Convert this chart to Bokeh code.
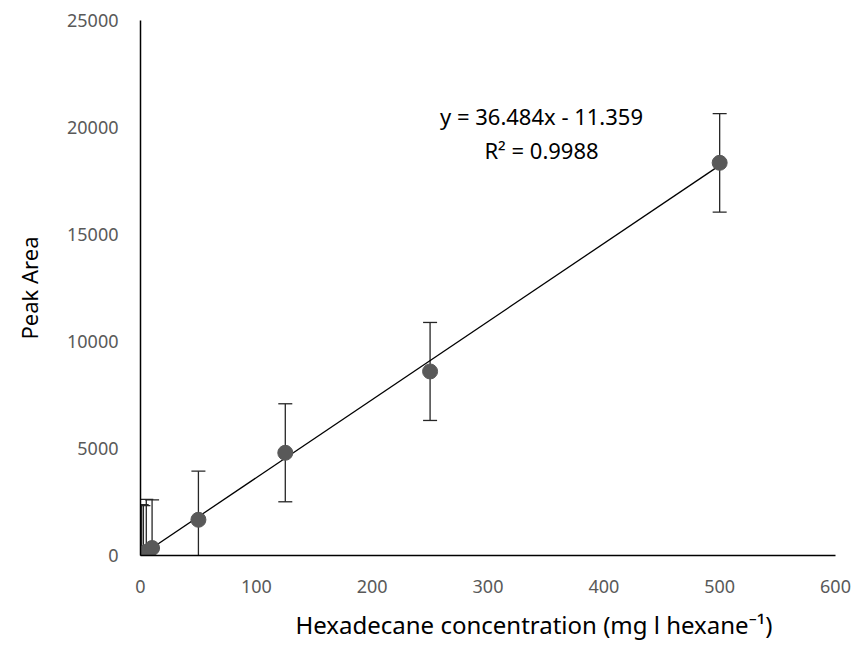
from bokeh.plotting import figure
from bokeh.models import Range1d, ColumnDataSource, Whisker, TeeHead, Label, FixedTicker, Title
from bokeh.embed import file_html
from bokeh.resources import INLINE

# Data
concentration = [1, 2.5, 5, 10, 50, 125, 250, 500]
peak_area = [25, 80, 170, 350, 1670, 4800, 8600, 18350]
error = [2350, 2250, 2450, 2250, 2270, 2290, 2290, 2300]
slope = 36.484
intercept = -11.359
r2 = 0.9988
x_ticks = [0, 100, 200, 300, 400, 500, 600]
y_ticks = [0, 5000, 10000, 15000, 20000, 25000]

FONT = "Noto Sans"
GREY = "#595959"

p = figure(width=859, height=655, output_backend="svg", toolbar_location=None,
           x_range=Range1d(0, 600), y_range=Range1d(0, 25000),
           min_border_left=140, min_border_right=24, min_border_top=20, min_border_bottom=100)
p.outline_line_color = None
p.grid.visible = False
p.background_fill_color = "white"
p.border_fill_color = "white"

for ax in (p.xaxis[0], p.yaxis[0]):
    ax.axis_line_color = "black"
    ax.axis_line_width = 1.5
    ax.major_tick_line_color = None
    ax.minor_tick_line_color = None
    ax.major_tick_out = 0
    ax.major_tick_in = 0
    ax.major_label_text_font = FONT
    ax.major_label_text_font_size = "18px"
    ax.major_label_text_color = GREY

p.xaxis[0].ticker = FixedTicker(ticks=x_ticks)
p.yaxis[0].ticker = FixedTicker(ticks=y_ticks)
p.xaxis[0].major_label_standoff = 24
p.yaxis[0].major_label_standoff = 22

p.yaxis[0].axis_label = "Peak Area"
p.yaxis[0].axis_label_text_font = FONT
p.yaxis[0].axis_label_text_font_size = "22px"
p.yaxis[0].axis_label_text_font_style = "normal"
p.yaxis[0].axis_label_text_color = "black"
p.yaxis[0].axis_label_standoff = 20

p.add_layout(Title(text="Hexadecane concentration (mg l hexane\u207b\u00b9)", align="left", offset=155,
                   text_font=FONT, text_font_size="24px", text_font_style="normal",
                   text_color="black", standoff=20), "below")

src = ColumnDataSource(dict(
    x=concentration, y=peak_area,
    upper=[v + e for v, e in zip(peak_area, error)],
    lower=[v - e for v, e in zip(peak_area, error)],
))

# trendline
x0, x1 = 0, max(concentration)
p.line([x0, x1], [slope * x0 + intercept, slope * x1 + intercept], line_color="black", line_width=1.3)

w = Whisker(source=src, base="x", upper="upper", lower="lower", dimension="height",
            line_color="#262626", line_width=1.3,
            upper_head=TeeHead(size=14, line_color="#262626", line_width=1.3),
            lower_head=TeeHead(size=14, line_color="#262626", line_width=1.3))
p.add_layout(w)

p.scatter("x", "y", source=src, size=15, fill_color=GREY, line_color=GREY)

p.add_layout(Label(x=401, y=440, x_units="screen", y_units="screen",
                   text=f"y = {slope}x - {abs(intercept)}", text_align="center", text_baseline="middle",
                   text_font=FONT, text_font_size="22px", text_color="black"))
p.add_layout(Label(x=401, y=406, x_units="screen", y_units="screen",
                   text=f"R\u00b2 = {r2}", text_align="center", text_baseline="middle",
                   text_font=FONT, text_font_size="22px", text_color="black"))

open("out.html", "w").write(file_html(p, INLINE))
